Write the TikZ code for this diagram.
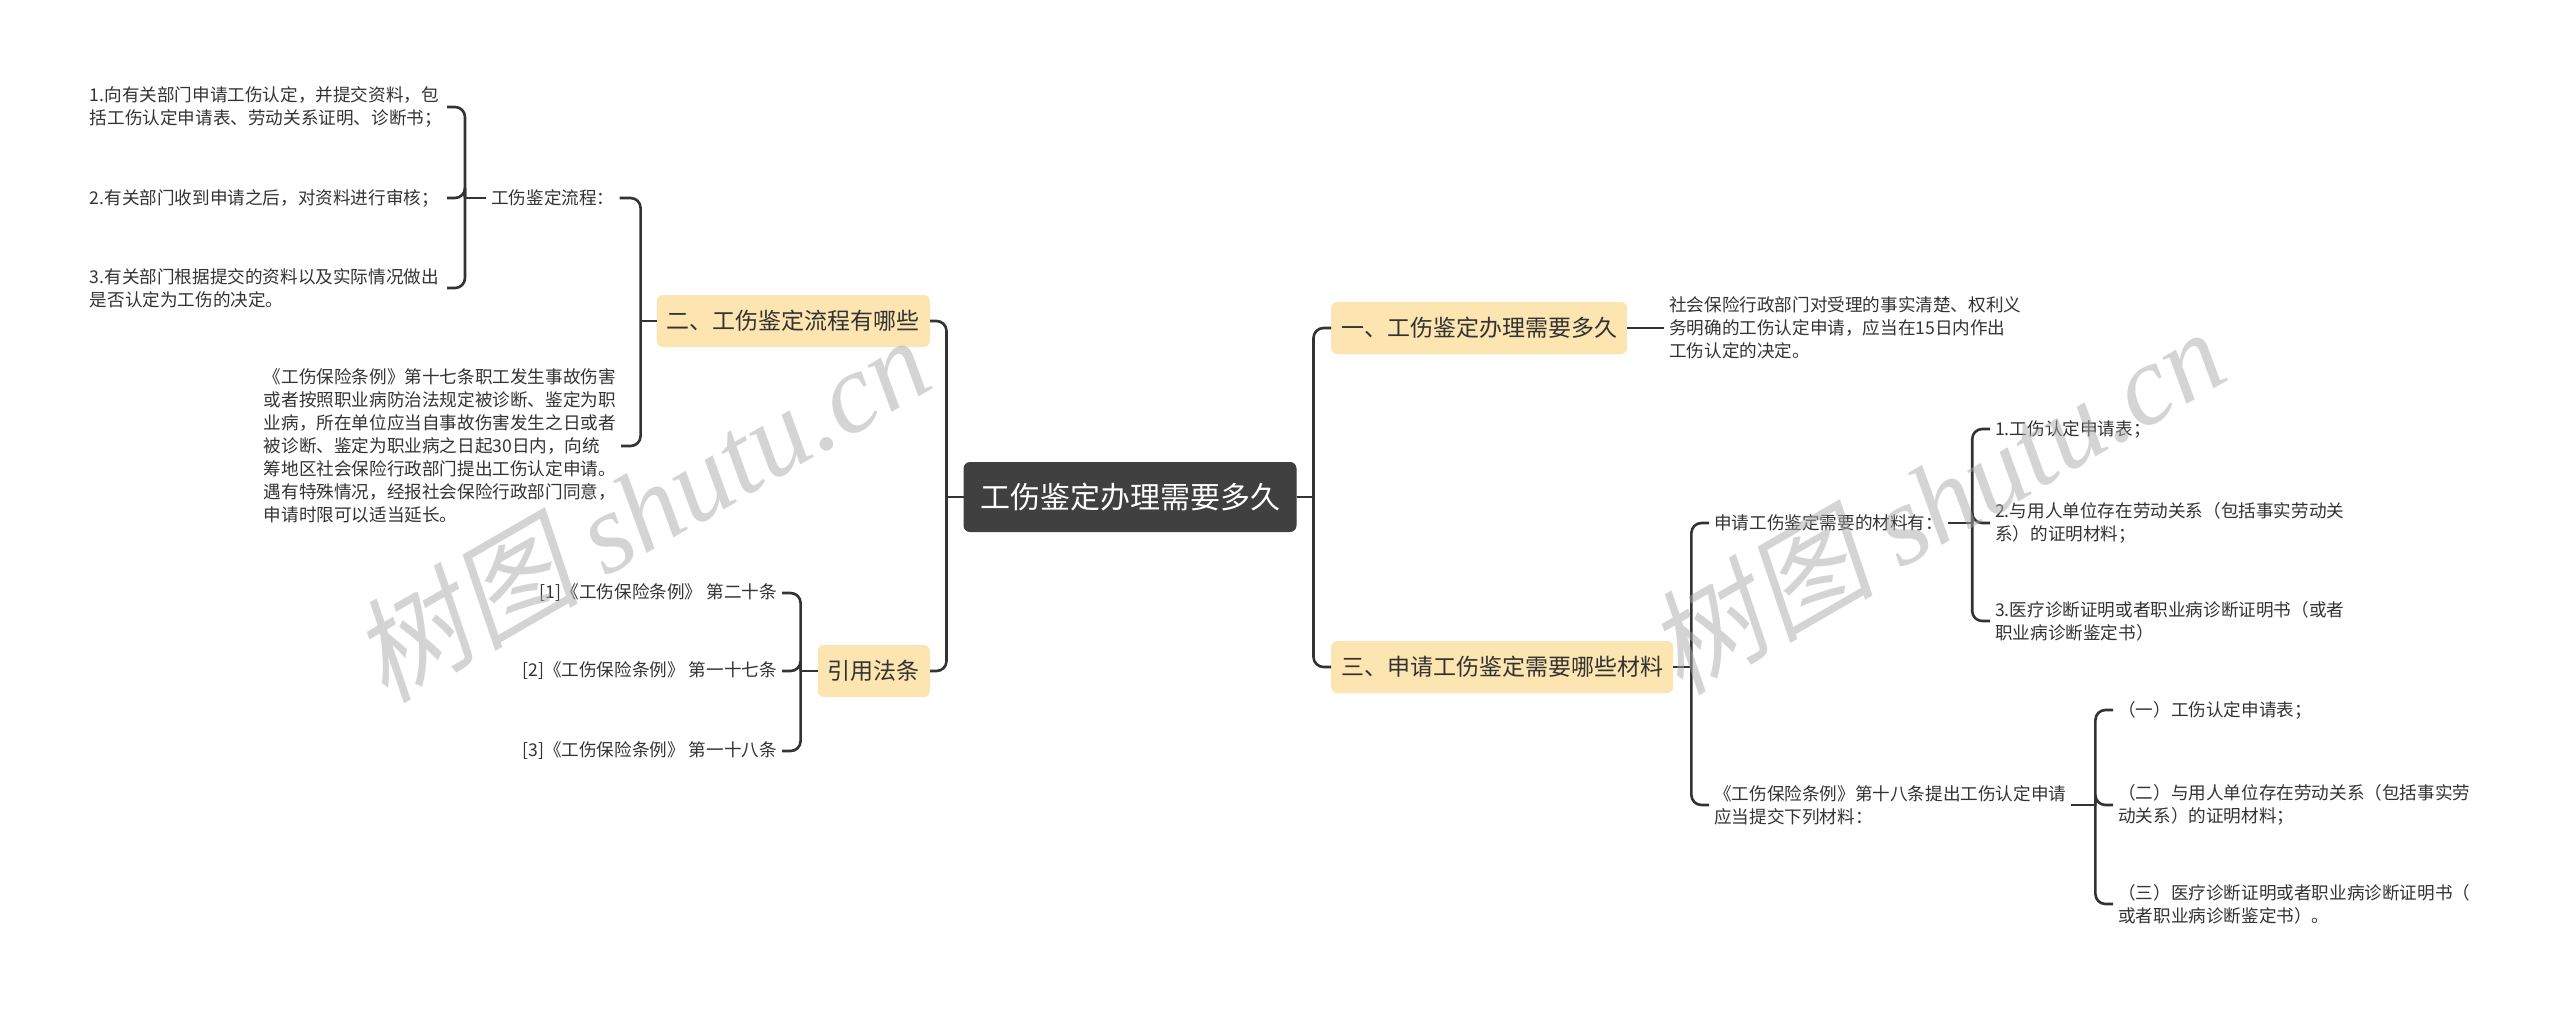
\documentclass[tikz,border=0pt]{standalone}
\usepackage{fontspec}
\setmainfont{Noto Sans CJK SC}
\newfontfamily\wmcjk[FakeSlant=0.2]{Noto Sans CJK SC}
\newfontfamily\wmlatin{Liberation Serif}
\usetikzlibrary{calc}
\definecolor{boxyellow}{RGB}{252,229,176}
\definecolor{boxdark}{RGB}{64,64,64}
\definecolor{inkgray}{RGB}{51,51,51}
\definecolor{markgray}{RGB}{170,170,170}

\begin{document}
\begin{tikzpicture}[x=1pt, y=-1pt,
  mainbox/.style={fill=boxdark, draw=black!75, line width=1pt, rounded corners=6pt, text=white,
    font={\fontsize{30}{36}\selectfont}, minimum height=69pt, inner xsep=16pt},
  subbox/.style={fill=boxyellow, rounded corners=6pt, text=inkgray,
    font={\fontsize{23}{28}\selectfont}, minimum height=52pt, inner xsep=10pt},
  leaftext/.style={text=inkgray, font={\fontsize{17.6}{23}\selectfont}, align=left, inner sep=5pt},
  wire/.style={draw=inkgray, line width=2.6pt, rounded corners=10pt},
  wmark/.style={rotate=30, text=markgray, text opacity=.5, font={\fontsize{114}{116}\selectfont}}]
\useasboundingbox (0,0) rectangle (2560,1010);
\fill[white] (0,0) rectangle (2560,1010);

% centre
\node[mainbox] (main) at (1130,497) {工伤鉴定办理需要多久};

% right side
\node[subbox, anchor=west] (one) at (1331,328) {一、工伤鉴定办理需要多久};
\node[subbox, anchor=west] (three) at (1331,667) {三、申请工伤鉴定需要哪些材料};
\node[leaftext, anchor=west] (oneT) at (1664,328) {社会保险行政部门对受理的事实清楚、权利义\\务明确的工伤认定申请，应当在15日内作出\\工伤认定的决定。};
\node[leaftext, anchor=west] (need) at (1709,523) {申请工伤鉴定需要的材料有：};
\node[leaftext, anchor=west] (art18) at (1709,805) {《工伤保险条例》第十八条提出工伤认定申请\\应当提交下列材料：};
\node[leaftext, anchor=west] (need1) at (1990,429) {1.工伤认定申请表；};
\node[leaftext, anchor=west] (need2) at (1990,523) {2.与用人单位存在劳动关系（包括事实劳动关\\系）的证明材料；};
\node[leaftext, anchor=west] (need3) at (1990,621) {3.医疗诊断证明或者职业病诊断证明书（或者\\职业病诊断鉴定书）};
\node[leaftext, anchor=west] (art1) at (2113,710) {（一）工伤认定申请表；};
\node[leaftext, anchor=west] (art2) at (2113,805) {（二）与用人单位存在劳动关系（包括事实劳\\动关系）的证明材料；};
\node[leaftext, anchor=west] (art3) at (2113,904) {（三）医疗诊断证明或者职业病诊断证明书（\\或者职业病诊断鉴定书）。};

% left side
\node[subbox, anchor=east] (two) at (930,321) {二、工伤鉴定流程有哪些};
\node[subbox, anchor=east] (cite) at (930,671) {引用法条};
\node[leaftext, anchor=west] (flow) at (486,198) {工伤鉴定流程：};
\node[leaftext, anchor=east, text width=352pt] (flow1) at (447,107) {1.向有关部门申请工伤认定，并提交资料，包\\括工伤认定申请表、劳动关系证明、诊断书；};
\node[leaftext, anchor=east, text width=352pt] (flow2) at (447,198) {2.有关部门收到申请之后，对资料进行审核；};
\node[leaftext, anchor=east, text width=352pt] (flow3) at (447,288) {3.有关部门根据提交的资料以及实际情况做出\\是否认定为工伤的决定。};
\node[leaftext, anchor=east] (art17) at (621,446) {《工伤保险条例》第十七条职工发生事故伤害\\或者按照职业病防治法规定被诊断、鉴定为职\\业病，所在单位应当自事故伤害发生之日或者\\被诊断、鉴定为职业病之日起30日内，向统\\筹地区社会保险行政部门提出工伤认定申请。\\遇有特殊情况，经报社会保险行政部门同意，\\申请时限可以适当延长。};
\node[leaftext, anchor=east] (ref1) at (782,593) {[1]《工伤保险条例》 第二十条};
\node[leaftext, anchor=east] (ref2) at (782,671) {[2]《工伤保险条例》 第一十七条};
\node[leaftext, anchor=east] (ref3) at (782,751) {[3]《工伤保险条例》 第一十八条};

% joints
\coordinate (mR) at ($(main.east)+(17,0)$);
\coordinate (mL) at ($(main.west)+(-17,0)$);
\coordinate (threeJ) at ($(three.east)+(18,0)$);
\coordinate (needJ) at ($(need.east)+(24,0)$);
\coordinate (art18J) at ($(art18.east)+(24,0)$);
\coordinate (twoJ) at ($(two.west)+(-16,0)$);
\coordinate (flowJ) at ($(flow.west)+(-21,0)$);
\coordinate (citeJ) at ($(cite.west)+(-17,0)$);

% connectors
\draw[wire] (main.east) -- (mR);
\draw[wire] (mR) |- (one.west);
\draw[wire] (mR) |- (three.west);
\draw[wire] (one.east) -- (oneT.west);
\draw[wire] (three.east) -- (threeJ);
\draw[wire] (threeJ) |- (need.west);
\draw[wire] (threeJ) |- (art18.west);
\draw[wire] (need.east) -- (needJ);
\foreach \n in {need1,need2,need3}
    \draw[wire] (needJ) |- (\n.west);
\draw[wire] (art18.east) -- (art18J);
\foreach \n in {art1,art2,art3}
    \draw[wire] (art18J) |- (\n.west);

\draw[wire] (main.west) -- (mL);
\draw[wire] (mL) |- (two.east);
\draw[wire] (mL) |- (cite.east);
\draw[wire] (two.west) -- (twoJ);
\draw[wire] (twoJ) |- (flow.east);
\draw[wire] (twoJ) |- (art17.east);
\draw[wire] (flow.west) -- (flowJ);
\foreach \n in {flow1,flow2,flow3}
    \draw[wire] (flowJ) |- (\n.east);
\draw[wire] (cite.west) -- (citeJ);
\foreach \n in {ref1,ref2,ref3}
    \draw[wire] (citeJ) |- (\n.east);

% watermark
\node[wmark] (mark1) at (640,508) {{\wmcjk 树图} {\wmlatin\itshape shutu.cn}};
\node[wmark] (mark2) at (1935,500) {{\wmcjk 树图} {\wmlatin\itshape shutu.cn}};
\end{tikzpicture}
\end{document}
